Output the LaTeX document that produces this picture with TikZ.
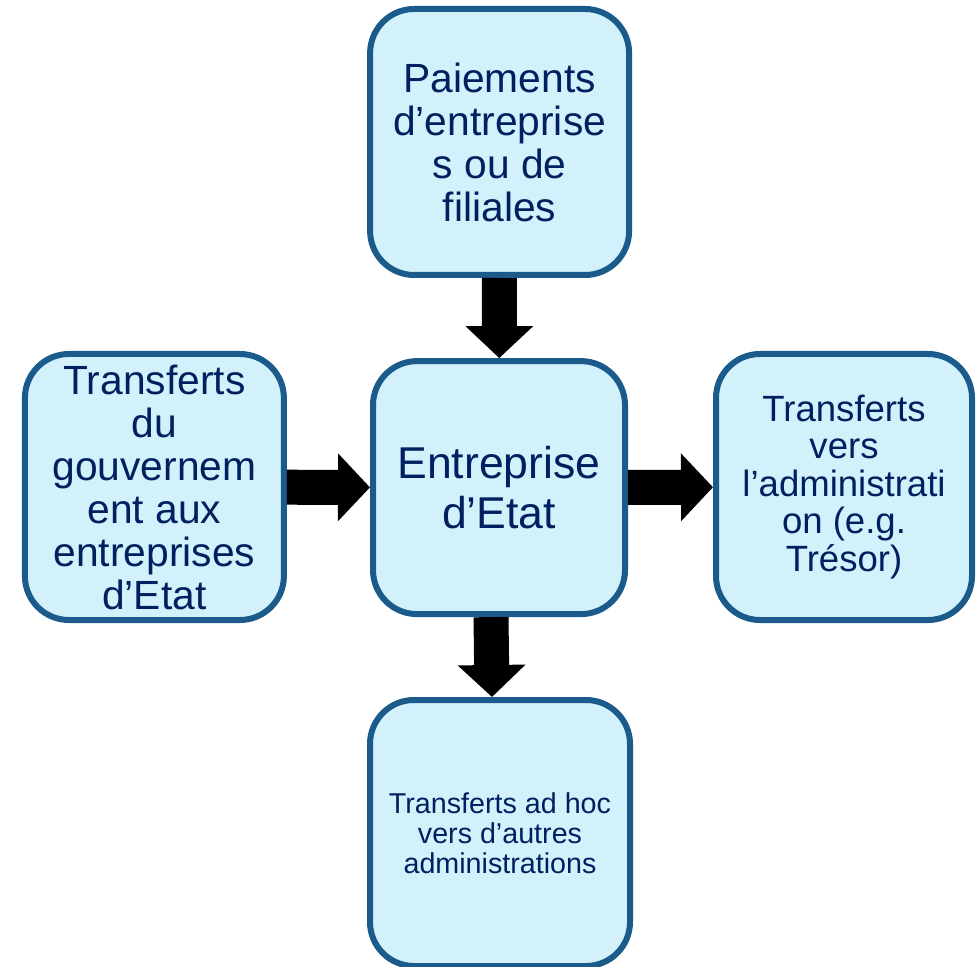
\documentclass[tikz,border=0pt]{standalone}
\usepackage{fontspec}
\setmainfont{Liberation Sans}
\usetikzlibrary{arrows.meta}
\definecolor{kastenfuell}{RGB}{211,241,251}
\definecolor{kastenrand}{RGB}{27,91,140}
\definecolor{kastentext}{RGB}{0,32,96}
\tikzset{
	kasten/.style={
		draw=kastenrand,
		fill=kastenfuell,
		line width=0.15cm,
		rounded corners=1.1cm,
		align=center,
		text=kastentext,
		inner sep=0pt
	},
	blockpfeil/.style={
		draw=black,
		line width=0.875cm,
		-{Triangle[width=1.65cm,length=0.8cm]}
	}
}
\begin{document}
\begin{tikzpicture}
	\useasboundingbox (0,0) rectangle (24.4,24.15);
	% Paiements (oben)
	\node[
		kasten,
		minimum width=6.475cm,
		minimum height=6.65cm,
		font=\fontsize{29}{30.6}\selectfont
	] (paiements) at (12.49,20.6) {Paiements\\d’entreprise\\s ou de\\filiales};
	% Entreprise d'Etat (Mitte)
	\node[
		kasten,
		minimum width=6.3cm,
		minimum height=6.325cm,
		font=\fontsize{31.7}{35.6}\selectfont
	] (etat) at (12.475,11.96) {Entreprise\\d’Etat};
	% Gouvernement (links)
	\node[
		kasten,
		minimum width=6.475cm,
		minimum height=6.65cm,
		font=\fontsize{29}{30.6}\selectfont
	] (gouvernement) at (3.86,11.975) {Transferts\\du\\gouvernem\\ent aux\\entreprises\\d’Etat};
	% Tresor (rechts)
	\node[
		kasten,
		minimum width=6.4cm,
		minimum height=6.65cm,
		font=\fontsize{26}{26.7}\selectfont
	] (tresor) at (21.1,11.975) {Transferts\\vers\\l’administrati\\on (e.g.\\Trésor)};
	% Autres administrations (unten)
	\node[
		kasten,
		minimum width=6.5cm,
		minimum height=6.65cm,
		font=\fontsize{20.4}{21.3}\selectfont
	] (autres) at (12.5,3.325) {Transferts ad hoc\\vers d’autres\\administrations};
	% Pfeile
	\draw[blockpfeil] (paiements) -- (etat);
	\draw[blockpfeil] (gouvernement) -- (etat);
	\draw[blockpfeil] (etat) -- (tresor);
	\draw[blockpfeil] ([xshift=-0.2cm]etat.south) -- ([xshift=-0.2cm]autres.north);

\end{tikzpicture}
\end{document}
